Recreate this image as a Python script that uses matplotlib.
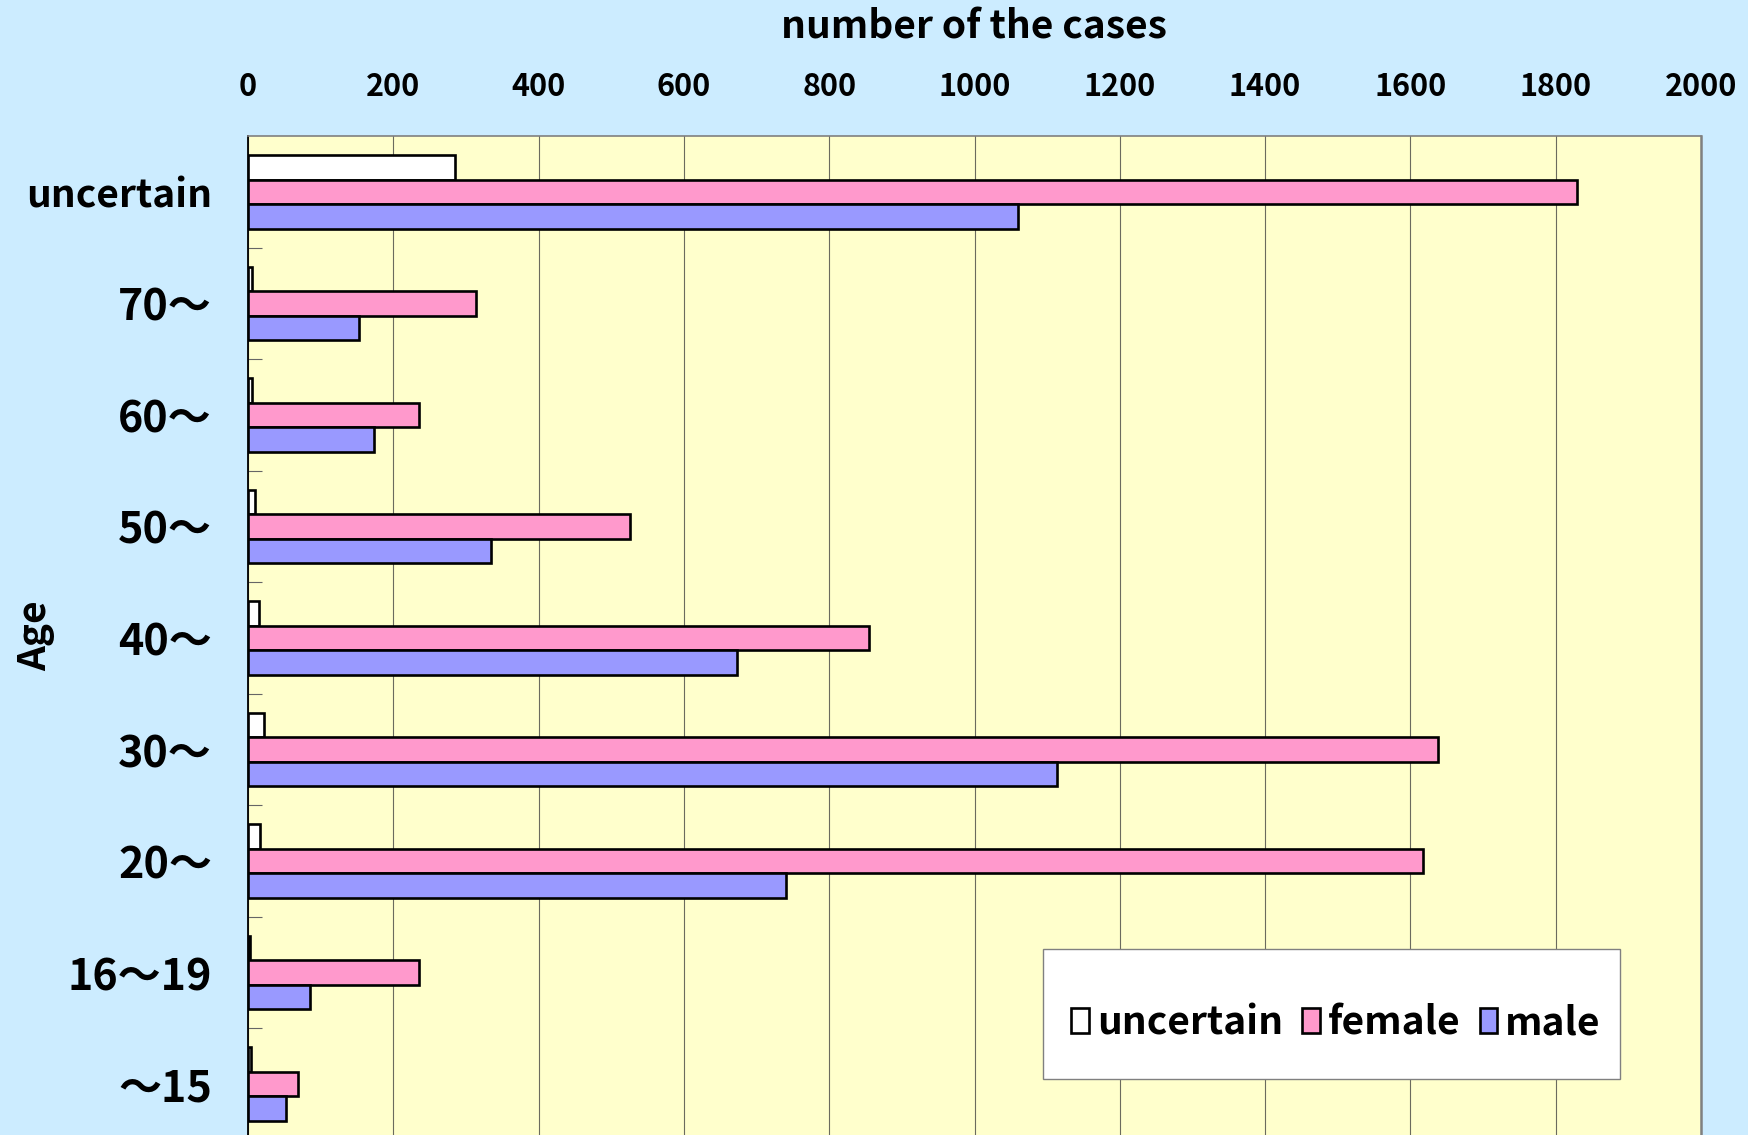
import matplotlib
matplotlib.use("Agg")
import matplotlib.pyplot as plt
from matplotlib.patches import Rectangle
import numpy as np

plt.rcParams['font.family'] = ['Noto Sans CJK JP', 'DejaVu Sans']
plt.rcParams['font.weight'] = 'bold'

categories = ["uncertain", "70～", "60～", "50～", "40～", "30～", "20～", "16～19", "～15"]
uncertain = [285, 5, 5, 10, 15, 22, 17, 3, 4]
female = [1830, 314, 236, 526, 855, 1638, 1618, 235, 69]
male = [1060, 153, 173, 335, 673, 1114, 741, 86, 52]
series_names = ["uncertain", "female", "male"]
x_ticks = [0, 200, 400, 600, 800, 1000, 1200, 1400, 1600, 1800, 2000]

colors = ["#FFFFFF", "#FF99CC", "#9999FF"]
fig_bg = "#CCECFF"
ax_bg = "#FFFFCC"

W, H = 1749, 1135
fig = plt.figure(figsize=(W / 100, H / 100), dpi=100, facecolor=fig_bg)
left, right, top, bottom = 248, 1701, 136, 1140
ax = fig.add_axes([left / W, 1 - bottom / H, (right - left) / W, (bottom - top) / H])
ax.set_facecolor(ax_bg)

n = len(categories)
ypos = np.arange(n)[::-1].astype(float)
bh = 0.22
for vals, off, col, name in zip([uncertain, female, male], [bh, 0, -bh], colors, series_names):
    ax.barh(ypos + off, vals, height=bh, color=col, edgecolor="black", linewidth=1.9,
            label=name, zorder=3)

ax.set_xlim(0, 2000)
ax.set_ylim(-0.5, n - 0.5)
ax.set_axisbelow(True)

ax.xaxis.tick_top()
ax.set_xticks(x_ticks)
ax.set_xticklabels([str(v) for v in x_ticks], fontsize=22, fontweight='bold')
ax.tick_params(axis='x', length=0, pad=24)
ax.grid(axis='x', color='#6b6b5e', linewidth=0.8)

ax.set_yticks(ypos)
ax.set_yticklabels(categories, fontsize=28, fontweight='bold')
for lab in ax.get_yticklabels():
    if lab.get_text() != "uncertain":
        lab.set_fontsize(31)
ax.tick_params(axis='y', which='major', length=0, pad=26)
ax.set_yticks(np.arange(n - 1) + 0.5, minor=True)
ax.tick_params(axis='y', which='minor', direction='in', length=10, width=0.8, color='#666666')

ax.spines['left'].set_color('black')
ax.spines['left'].set_linewidth(1.3)
ax.spines['top'].set_color('#808080')
ax.spines['top'].set_linewidth(1.2)
ax.spines['right'].set_color('#808080')
ax.spines['right'].set_linewidth(1.8)
ax.spines['bottom'].set_visible(False)

fig.text(974 / W, 1 - 27 / H, "number of the cases", ha='center', va='center',
         fontsize=28, fontweight='bold')
fig.text(36 / W, 1 - 636 / H, "Age", ha='center', va='center', rotation=90,
         fontsize=28, fontweight='bold')

# legend box
bx0 = (1043 - left) / (right - left)
bx1 = (1620 - left) / (right - left)
by0 = (bottom - 1079) / (bottom - top)
by1 = (bottom - 949) / (bottom - top)
ax.add_patch(Rectangle((bx0, by0), bx1 - bx0, by1 - by0, transform=ax.transAxes,
                       facecolor='white', edgecolor='#808080', linewidth=1, zorder=5))
leg = ax.legend(loc='center', bbox_to_anchor=((bx0 + bx1) / 2 + 0.003, (by0 + by1) / 2 - 0.009),
                ncol=3, frameon=False, fontsize=28, handlelength=0.45, handleheight=0.6,
                handletextpad=0.2, columnspacing=0.5, borderpad=0)
leg.set_zorder(6)
for t in leg.get_texts():
    t.set_fontweight('bold')

fig.savefig("out.png", dpi=100, facecolor=fig_bg)
